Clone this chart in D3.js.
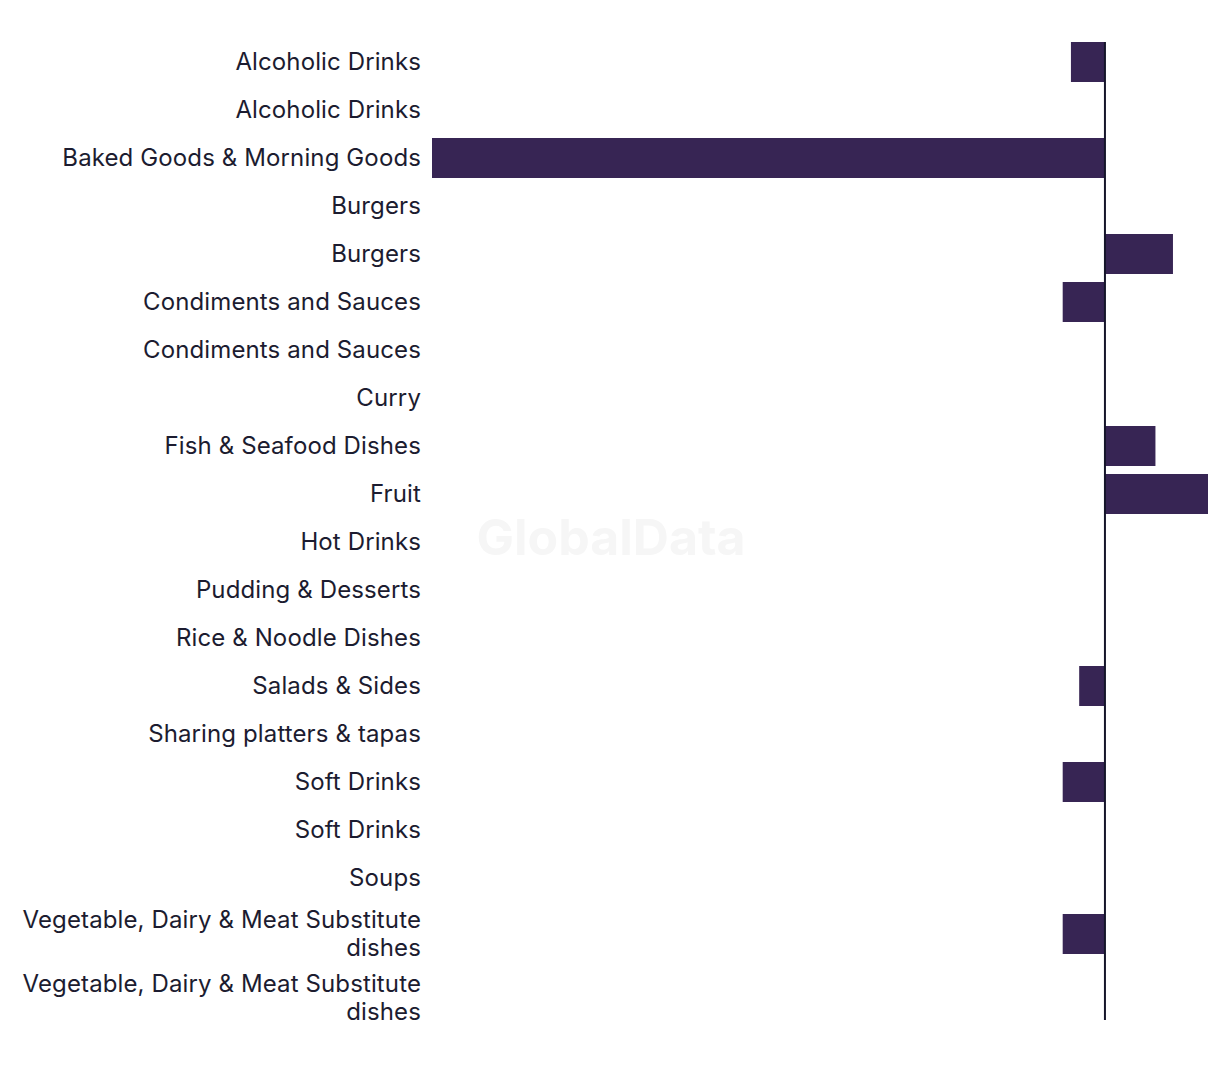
<!DOCTYPE html>
<html>
<head>
<meta charset="utf-8">
<script src="https://cdn.jsdelivr.net/npm/d3@7/dist/d3.min.js"></script>
<style>
  html, body { margin: 0; padding: 0; background: #ffffff; }
  svg { display: block; }
</style>
</head>
<body>
<div id="chart"></div>
<script>
// ---- Data ----
const categories = [
  "Alcoholic Drinks",
  "Alcoholic Drinks",
  "Baked Goods & Morning Goods",
  "Burgers",
  "Burgers",
  "Condiments and Sauces",
  "Condiments and Sauces",
  "Curry",
  "Fish & Seafood Dishes",
  "Fruit",
  "Hot Drinks",
  "Pudding & Desserts",
  "Rice & Noodle Dishes",
  "Salads & Sides",
  "Sharing platters & tapas",
  "Soft Drinks",
  "Soft Drinks",
  "Soups",
  "Vegetable, Dairy & Meat Substitute dishes",
  "Vegetable, Dairy & Meat Substitute dishes"
];
const values = [
  -3.3, 0, -65.3, 0, 6.6, -4.1, 0, 0, 4.9, 10.0,
  0, 0, 0, -2.5, 0, -4.1, 0, 0, -4.1, 0
];
const watermarkText = "GlobalData";

// ---- Layout ----
const W = 1220, H = 1072;
const labelRight = 421;
const wrapWidth = 410;
const plotLeft = 432, plotRight = 1208;
const plotTop = 42;
const barH = 40, gap = 8, lineH = 28;
const fontFamily = "Inter, 'Noto Sans', sans-serif";
const fontSize = 24;
const letterSpacing = 0.12;

const svg = d3.select("#chart").append("svg")
  .attr("width", W).attr("height", H);

// Watermark
svg.append("text")
  .attr("x", 611).attr("y", 537)
  .attr("text-anchor", "middle")
  .attr("dominant-baseline", "central")
  .style("font-family", "Inter, 'Liberation Sans', sans-serif")
  .style("font-weight", 700)
  .style("font-size", "50px")
  .style("fill", "#f6f6f6")
  .text(watermarkText);

// Word wrap measurement
const measure = svg.append("text")
  .style("font-family", fontFamily).style("font-size", fontSize + "px")
  .style("letter-spacing", letterSpacing + "px");
function wrap(str) {
  const words = str.split(" ");
  const lines = [];
  let cur = "";
  words.forEach(w => {
    const test = cur ? cur + " " + w : w;
    measure.text(test);
    if (measure.node().getComputedTextLength() > wrapWidth && cur) {
      lines.push(cur); cur = w;
    } else cur = test;
  });
  if (cur) lines.push(cur);
  return lines;
}
const wrapped = categories.map(wrap);
measure.remove();

// Row layout (row height grows with wrapped label)
const rows = [];
let yCursor = plotTop;
wrapped.forEach((lines, i) => {
  const h = Math.max(barH, lines.length * lineH);
  rows.push({ i, cat: categories[i], value: values[i], lines, y0: yCursor, h, cy: yCursor + h / 2 });
  yCursor += h + gap;
});
const plotBottom = yCursor - gap - 6;

// Scales
const x = d3.scaleLinear()
  .domain([d3.min(values), d3.max(values)])
  .range([plotLeft, plotRight]);

// Bars
svg.append("g").selectAll("rect")
  .data(rows.filter(r => r.value !== 0))
  .join("rect")
  .attr("x", d => x(Math.min(0, d.value)))
  .attr("y", d => d.cy - barH / 2)
  .attr("width", d => Math.abs(x(d.value) - x(0)))
  .attr("height", barH)
  .attr("fill", "#372554");

// Zero axis line
svg.append("line")
  .attr("x1", x(0)).attr("x2", x(0))
  .attr("y1", plotTop).attr("y2", plotBottom)
  .attr("stroke", "#15152a").attr("stroke-width", 2);

// Labels
const lbl = svg.append("g").selectAll("text")
  .data(rows)
  .join("text")
  .attr("text-anchor", "end")
  .style("font-family", fontFamily)
  .style("font-size", fontSize + "px")
  .style("letter-spacing", letterSpacing + "px")
  .style("fill", "#1c1c30");
lbl.each(function(d) {
  const t = d3.select(this);
  const n = d.lines.length;
  d.lines.forEach((ln, k) => {
    t.append("tspan")
      .attr("x", labelRight)
      .attr("y", d.cy + (k - (n - 1) / 2) * lineH)
      .attr("dy", "0.35em")
      .text(ln);
  });
});
</script>
</body>
</html>
